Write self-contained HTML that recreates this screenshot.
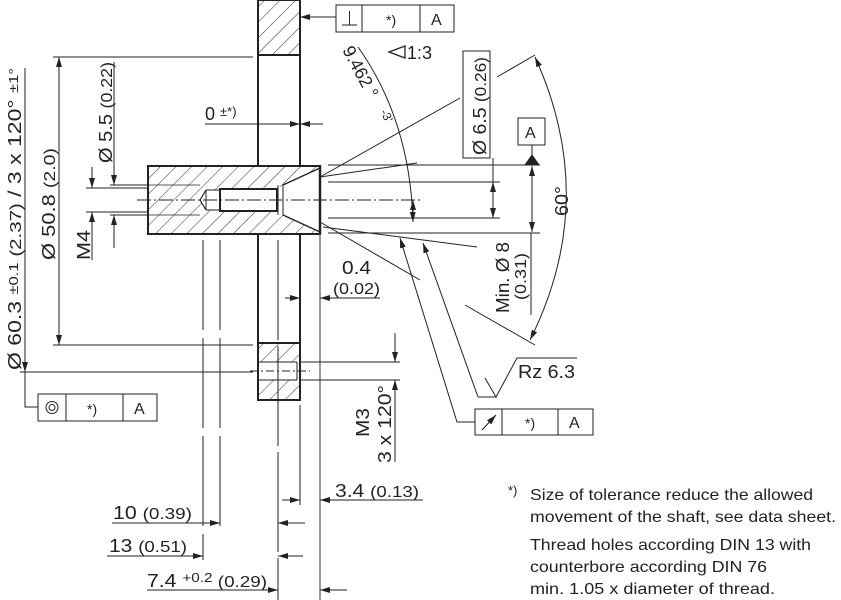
<!DOCTYPE html>
<html><head><meta charset="utf-8"><style>
html,body{margin:0;padding:0;background:#fff;}
svg{display:block;font-family:"Liberation Sans",sans-serif;}
</style></head><body>
<svg width="841" height="600" viewBox="0 0 841 600" xmlns="http://www.w3.org/2000/svg">
<defs>
<pattern id="h" patternUnits="userSpaceOnUse" width="11" height="11" patternTransform="rotate(45)">
<line x1="0" y1="0" x2="0" y2="11" stroke="#333" stroke-width="1"/>
</pattern>
<marker id="a" viewBox="0 0 10 6" refX="10" refY="3" markerWidth="10" markerHeight="6" orient="auto-start-reverse" markerUnits="userSpaceOnUse">
<path d="M0,0 L10,3 L0,6 z" fill="#222"/></marker>
</defs>
<g stroke="#222" fill="none" stroke-width="1">
<rect x="258" y="0" width="42" height="55" fill="url(#h)" stroke-width="2"/>
<line x1="258" y1="55" x2="258" y2="166" stroke-width="2"/>
<line x1="300" y1="55" x2="300" y2="166" stroke-width="2"/>
<line x1="258" y1="234" x2="258" y2="343" stroke-width="2"/>
<line x1="300" y1="234" x2="300" y2="343" stroke-width="2"/>
<rect x="258" y="343" width="42" height="57" fill="url(#h)" stroke-width="2"/>
<rect x="259" y="362" width="38" height="18" fill="#fff" stroke="none"/>
<line x1="259" y1="362" x2="297" y2="362"/><line x1="259" y1="380" x2="297" y2="380"/>
<line x1="297" y1="362" x2="297" y2="380"/>
<line x1="250" y1="371" x2="310" y2="371" stroke-dasharray="8,3,2,3"/>
<rect x="148" y="166" width="172" height="68" fill="url(#h)" stroke-width="2"/>
<path d="M200,200 L206,190 L277,189 L283,185 L320,168 L320,232 L283,215 L277,211 L206,210 z" fill="#fff" stroke="none"/>
<path d="M206,190 L200,200 L206,210" stroke-width="1.2"/>
<line x1="206" y1="190" x2="206" y2="210"/>
<rect x="220" y="189" width="57" height="22" stroke-width="2"/>
<line x1="206" y1="190" x2="220" y2="190"/><line x1="206" y1="210" x2="220" y2="210"/>
<line x1="278" y1="185" x2="278" y2="215"/><line x1="283" y1="185" x2="283" y2="215"/>
<line x1="283" y1="185" x2="320" y2="168" stroke-width="1.5"/>
<line x1="283" y1="215" x2="320" y2="232" stroke-width="1.5"/>
<line x1="320" y1="166" x2="320" y2="234" stroke-width="2.5"/>
<line x1="110" y1="185" x2="148" y2="185"/><line x1="110" y1="215" x2="148" y2="215"/>
<line x1="122" y1="188" x2="148" y2="188"/><line x1="122" y1="212" x2="148" y2="212"/>
<line x1="148" y1="185" x2="200" y2="185" stroke-width="0.7"/><line x1="148" y1="215" x2="200" y2="215" stroke-width="0.7"/>
<line x1="137" y1="200" x2="420" y2="200" stroke-dasharray="14,3,2,3"/>
<line x1="203" y1="240" x2="203" y2="560" stroke-dasharray="90,8"/>
<line x1="220" y1="240" x2="220" y2="530" stroke-dasharray="90,8"/>
<line x1="278" y1="240" x2="278" y2="600" stroke-dasharray="100,6"/>
<line x1="300" y1="405" x2="300" y2="505"/>
<line x1="320" y1="234" x2="320" y2="600" stroke="#555" stroke-width="1.2"/>
<line x1="20" y1="372" x2="253" y2="372"/>
<line x1="53" y1="57" x2="253" y2="57"/>
<line x1="53" y1="345" x2="253" y2="345"/>
<line x1="25" y1="68" x2="25" y2="372" marker-end="url(#a)"/>
<line x1="59" y1="57" x2="59" y2="345" marker-start="url(#a)" marker-end="url(#a)"/>
<line x1="114" y1="62" x2="114" y2="185" marker-end="url(#a)"/>
<line x1="114" y1="248" x2="114" y2="215" marker-end="url(#a)"/>
<line x1="92" y1="167" x2="92" y2="188" marker-end="url(#a)"/>
<line x1="92" y1="260" x2="92" y2="212" marker-end="url(#a)"/>
<line x1="86" y1="188" x2="122" y2="188"/><line x1="86" y1="212" x2="122" y2="212"/>
<path d="M25,372 L25,407 L38,407" />
<rect x="38" y="394" width="119" height="27"/><line x1="66" y1="394" x2="66" y2="421"/><line x1="123" y1="394" x2="123" y2="421"/>
<circle cx="52" cy="407.5" r="6"/><circle cx="52" cy="407.5" r="3"/>
<line x1="205" y1="124" x2="300" y2="124" marker-end="url(#a)"/>
<line x1="323" y1="124" x2="300" y2="124" marker-end="url(#a)"/>
<line x1="336" y1="17" x2="300" y2="17" marker-end="url(#a)"/>
<rect x="336" y="5" width="118" height="27"/><line x1="362" y1="5" x2="362" y2="32"/><line x1="420" y1="5" x2="420" y2="32"/>
<path d="M342,25 L357,25 M349.5,25 L349.5,11"/>
<path d="M405,46 L389,52 L405,58 z" stroke-width="1.3"/>
<line x1="320" y1="177" x2="460" y2="98"/>
<line x1="497" y1="77" x2="535" y2="55"/>
<line x1="320" y1="177" x2="417" y2="163"/>
<line x1="320" y1="222" x2="420" y2="280"/>
<line x1="465" y1="305" x2="535" y2="345"/>
<line x1="323" y1="227" x2="477" y2="247"/>
<path d="M358,47 Q410,120 413,222" marker-end="url(#a)"/>
<line x1="413" y1="215" x2="413" y2="200" marker-end="url(#a)" />
<line x1="328" y1="165" x2="540" y2="165"/>
<line x1="328" y1="233" x2="540" y2="233"/>
<line x1="328" y1="182" x2="500" y2="182"/>
<line x1="328" y1="218" x2="500" y2="218"/>
<line x1="493" y1="200" x2="493" y2="182" marker-end="url(#a)"/>
<line x1="493" y1="200" x2="493" y2="218" marker-end="url(#a)"/>
<line x1="493" y1="158" x2="493" y2="182"/>
<rect x="463" y="51" width="27" height="107"/>
<rect x="518" y="118" width="27" height="27"/>
<line x1="532" y1="145" x2="532" y2="158"/>
<path d="M525,165 L539,165 L532,155 z" fill="#222"/>
<line x1="532" y1="200" x2="532" y2="166" marker-end="url(#a)"/>
<line x1="532" y1="200" x2="532" y2="232" marker-end="url(#a)"/>
<line x1="531" y1="233" x2="531" y2="315"/>
<path d="M535,57 Q600,200 530,340" marker-start="url(#a)" marker-end="url(#a)"/>
<line x1="285" y1="298" x2="300" y2="298" marker-end="url(#a)"/>
<line x1="340" y1="298" x2="320" y2="298" marker-end="url(#a)"/>
<line x1="320" y1="298" x2="380" y2="298"/>
<path d="M478,397 L423,243" marker-end="url(#a)"/>
<path d="M478,397 L496,397 L485,378 M496,397 L517,358 L577,358"/>
<path d="M475,422 L457,422 L400,238" marker-end="url(#a)"/>
<rect x="475" y="409" width="118" height="26"/><line x1="502" y1="409" x2="502" y2="435"/><line x1="558" y1="409" x2="558" y2="435"/>
<line x1="482" y1="430" x2="496" y2="415" marker-end="url(#a)"/>
<line x1="300" y1="362" x2="400" y2="362"/><line x1="300" y1="380" x2="400" y2="380"/>
<line x1="395" y1="333" x2="395" y2="362" marker-end="url(#a)"/>
<line x1="395" y1="462" x2="395" y2="380" marker-end="url(#a)"/>
<line x1="282" y1="500" x2="300" y2="500" marker-end="url(#a)"/>
<line x1="423" y1="500" x2="320" y2="500" marker-end="url(#a)"/>
<line x1="112" y1="523" x2="220" y2="523" marker-end="url(#a)"/>
<line x1="305" y1="523" x2="278" y2="523" marker-end="url(#a)"/>
<line x1="107" y1="556" x2="203" y2="556" marker-end="url(#a)"/>
<line x1="303" y1="556" x2="278" y2="556" marker-end="url(#a)"/>
<line x1="147" y1="590" x2="278" y2="590" marker-end="url(#a)"/>
<line x1="347" y1="590" x2="320" y2="590" marker-end="url(#a)"/>
</g>
<g fill="#222" font-size="18">
<text transform="translate(21,370) rotate(-90)" textLength="302" lengthAdjust="spacingAndGlyphs">Ø 60.3 <tspan font-size="13" dy="-3">±0.1</tspan><tspan font-size="16" dy="3"> (2.37)</tspan> / 3 x 120° <tspan font-size="13" dy="-3">±1°</tspan></text>
<text transform="translate(55,260) rotate(-90)" textLength="112" lengthAdjust="spacingAndGlyphs">Ø 50.8 <tspan font-size="16">(2.0)</tspan></text>
<text transform="translate(112,163) rotate(-90)" textLength="101" lengthAdjust="spacingAndGlyphs">Ø 5.5 <tspan font-size="16">(0.22)</tspan></text>
<text transform="translate(90,260) rotate(-90)" textLength="30" lengthAdjust="spacingAndGlyphs">M4</text>
<text x="205" y="120">0 <tspan font-size="13" dy="-4">±*)</tspan></text>
<text x="386" y="25" font-size="14">*)</text>
<text x="431" y="25" font-size="16">A</text>
<text x="407" y="59">1:3</text>
<text transform="translate(342,50) rotate(62)" textLength="56" lengthAdjust="spacingAndGlyphs">9.462 °</text>
<text transform="translate(380,112) rotate(62)" font-size="12">-3'</text>
<text transform="translate(486,155) rotate(-90)" textLength="98" lengthAdjust="spacingAndGlyphs">Ø 6.5 <tspan font-size="16">(0.26)</tspan></text>
<text x="525" y="138" font-size="16">A</text>
<text transform="translate(568,216) rotate(-90)" textLength="30" lengthAdjust="spacingAndGlyphs">60°</text>
<text transform="translate(509,313) rotate(-90)" textLength="71" lengthAdjust="spacingAndGlyphs">Min. Ø 8</text>
<text transform="translate(526,300) rotate(-90)" font-size="16" textLength="47" lengthAdjust="spacingAndGlyphs">(0.31)</text>
<text x="342" y="274" textLength="29" lengthAdjust="spacingAndGlyphs">0.4</text>
<text x="333" y="294" font-size="16" textLength="47" lengthAdjust="spacingAndGlyphs">(0.02)</text>
<text x="518" y="378" textLength="57" lengthAdjust="spacingAndGlyphs">Rz 6.3</text>
<text x="525" y="428" font-size="14">*)</text>
<text x="569" y="428" font-size="16">A</text>
<text x="87" y="414" font-size="14">*)</text>
<text x="134" y="414" font-size="16">A</text>
<text transform="translate(369,437) rotate(-90)" textLength="29" lengthAdjust="spacingAndGlyphs">M3</text>
<text transform="translate(391,463) rotate(-90)" textLength="78" lengthAdjust="spacingAndGlyphs">3 x 120°</text>
<text x="335" y="497" textLength="84" lengthAdjust="spacingAndGlyphs">3.4 <tspan font-size="16">(0.13)</tspan></text>
<text x="113" y="519" textLength="79" lengthAdjust="spacingAndGlyphs">10 <tspan font-size="16">(0.39)</tspan></text>
<text x="109" y="552" textLength="78" lengthAdjust="spacingAndGlyphs">13 <tspan font-size="16">(0.51)</tspan></text>
<text x="147" y="587" textLength="120" lengthAdjust="spacingAndGlyphs">7.4 <tspan font-size="13" dy="-5">+0.2</tspan><tspan font-size="16" dy="5"> (0.29)</tspan></text>
<text x="508" y="495" font-size="13">*)</text>
<g font-size="16">
<text x="530" y="500" textLength="283" lengthAdjust="spacingAndGlyphs">Size of tolerance reduce the allowed</text>
<text x="530" y="522" textLength="306" lengthAdjust="spacingAndGlyphs">movement of the shaft, see data sheet.</text>
<text x="530" y="550" textLength="281" lengthAdjust="spacingAndGlyphs">Thread holes according DIN 13 with</text>
<text x="530" y="572" textLength="237" lengthAdjust="spacingAndGlyphs">counterbore according DIN 76</text>
<text x="530" y="594" textLength="245" lengthAdjust="spacingAndGlyphs">min. 1.05 x diameter of thread.</text>
</g>
</g>
</svg>
</body></html>
